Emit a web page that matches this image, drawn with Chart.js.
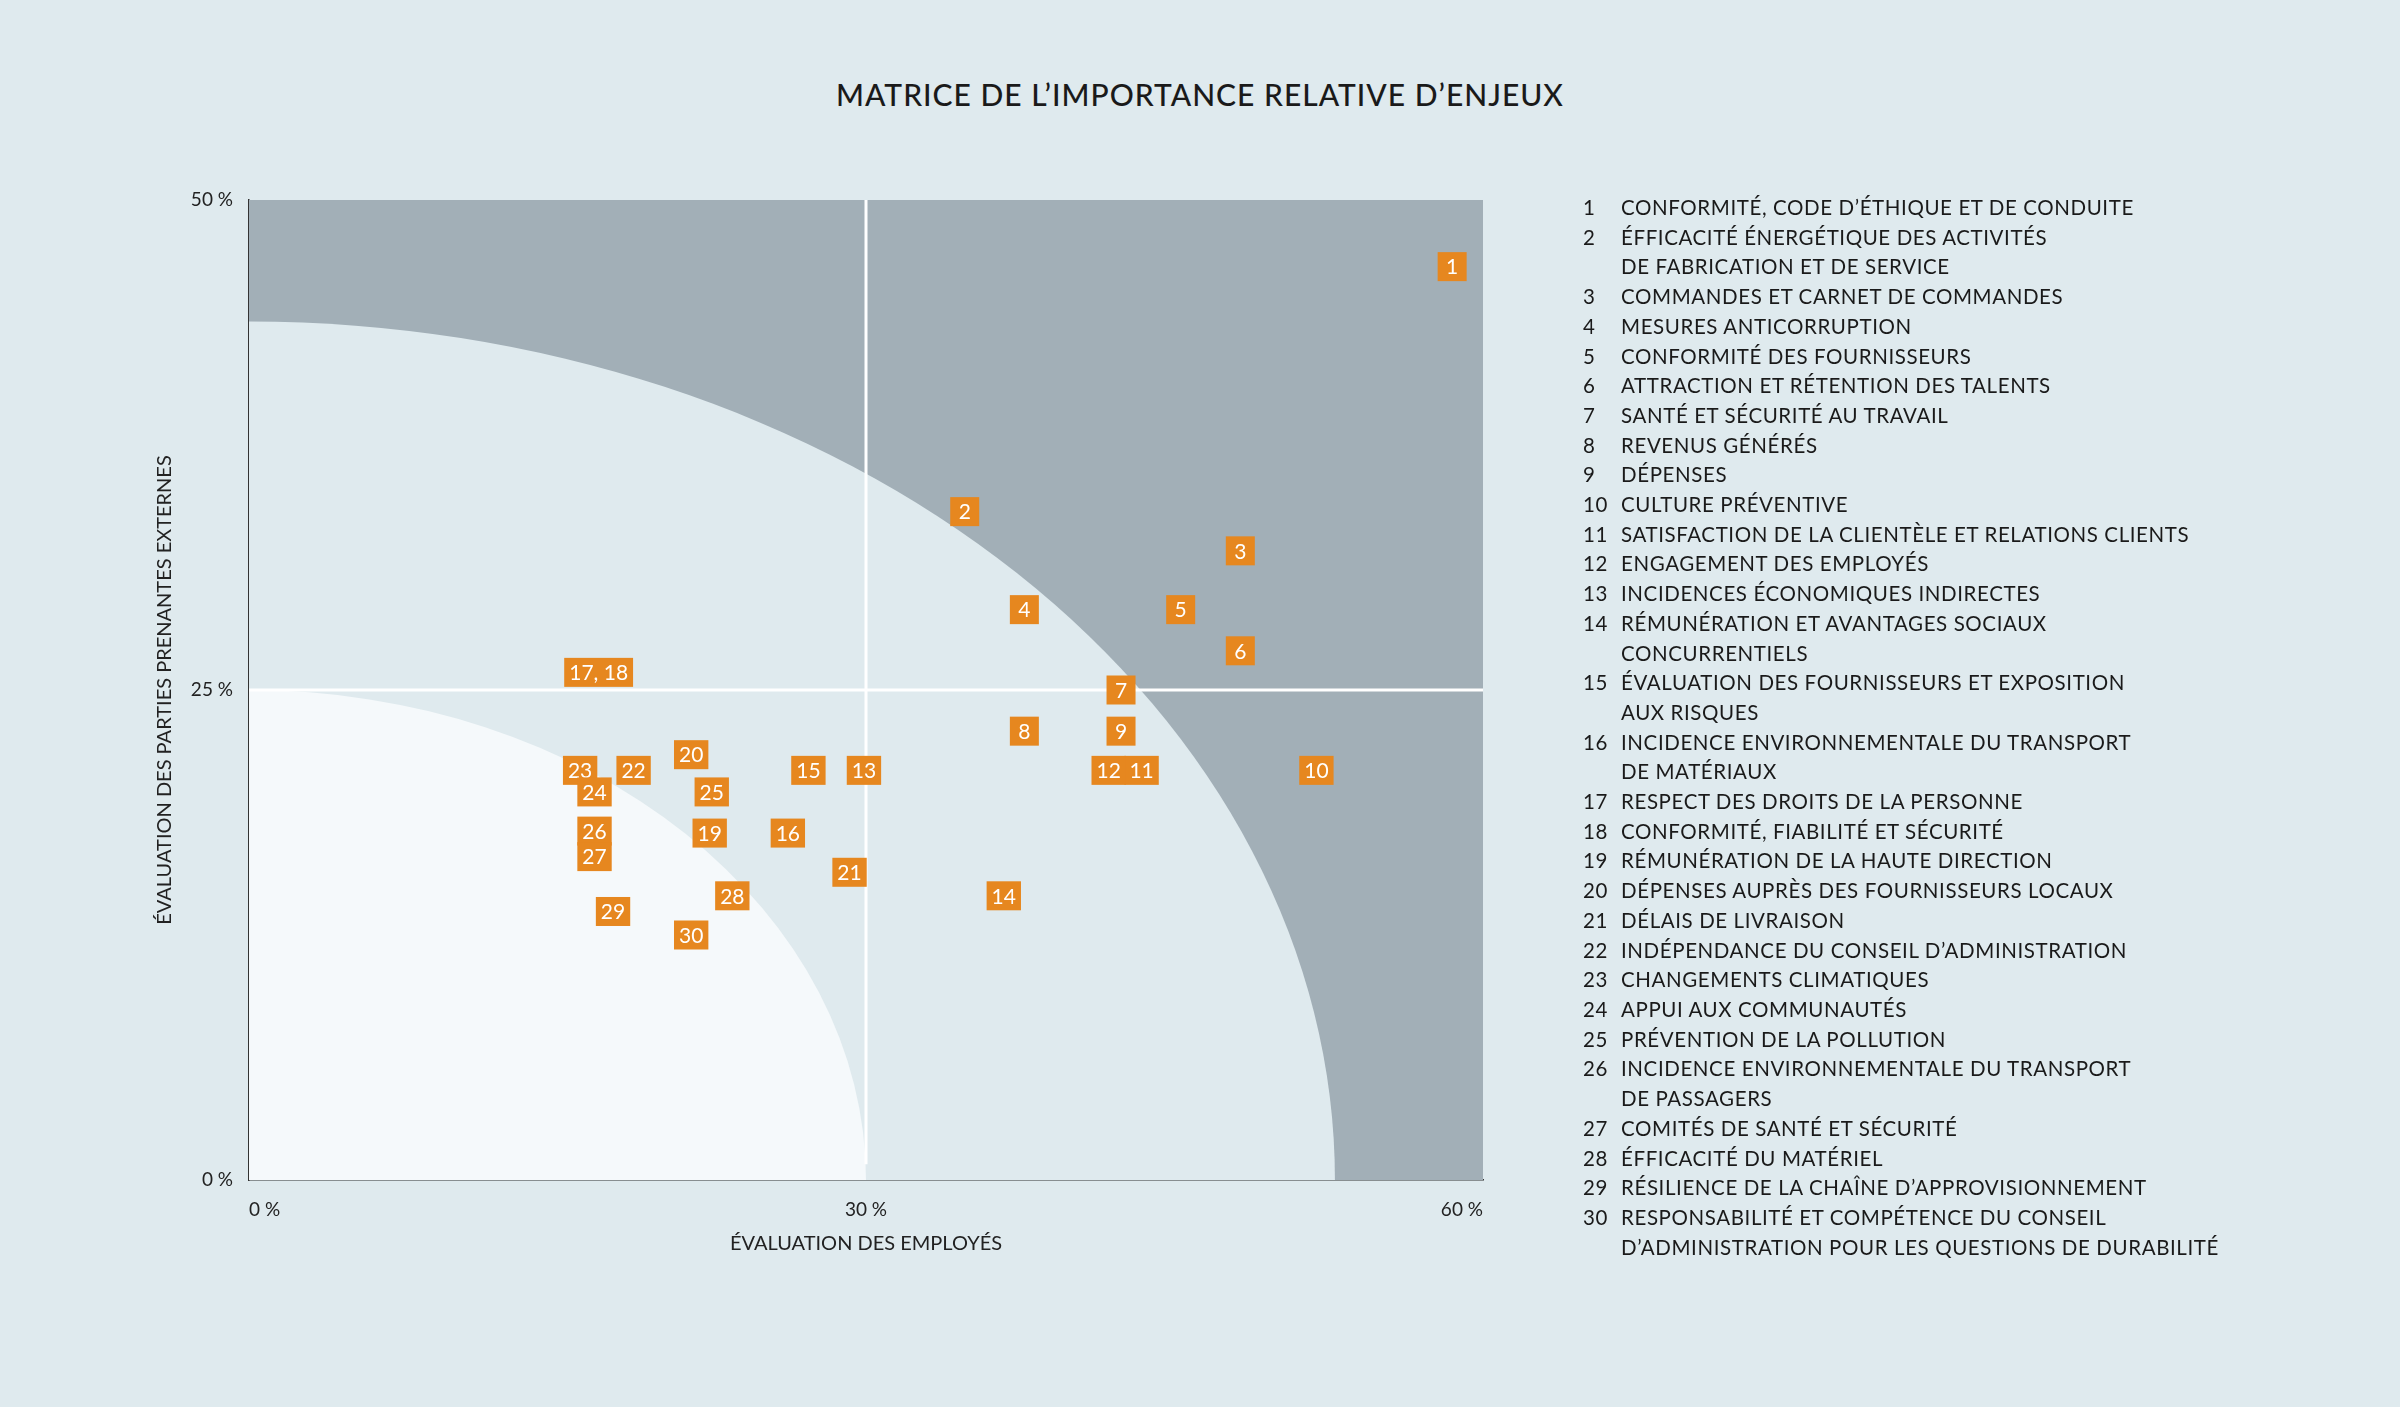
<!DOCTYPE html>
<html>
<head>
<meta charset="utf-8">
<script src="https://cdn.jsdelivr.net/npm/chart.js@4"></script>
<style>
  body{margin:0;background:#dfeaee;font-family:Lato,"Noto Sans",sans-serif;color:#1a1a1a;}
  #wrap{position:relative;width:2400px;height:1407px;}
  #title{position:absolute;top:76px;left:0;width:2400px;text-align:center;font-size:30px;letter-spacing:1px;font-weight:500;}
  canvas{position:absolute;left:0;top:0;}
  #legend{position:absolute;left:1583px;top:193px;font-size:20.5px;letter-spacing:0.6px;line-height:29.7px;}
  #legend .row{display:flex;}
  #legend .n{width:38px;flex:none;}
</style>
</head>
<body>
<div id="wrap">
  <div id="title">MATRICE DE L’IMPORTANCE RELATIVE D’ENJEUX</div>
  <canvas id="graphicFirst" width="2400" height="1407"></canvas>
  <div id="legend"></div>
</div>
<script>
//-----Variables
const enjeux = [
  {n:'1', x:58.5, y:46.6, t:['CONFORMITÉ, CODE D’ÉTHIQUE ET DE CONDUITE']},
  {n:'2', x:34.8, y:34.1, t:['ÉFFICACITÉ ÉNERGÉTIQUE DES ACTIVITÉS','DE FABRICATION ET DE SERVICE']},
  {n:'3', x:48.2, y:32.1, t:['COMMANDES ET CARNET DE COMMANDES']},
  {n:'4', x:37.7, y:29.1, t:['MESURES ANTICORRUPTION']},
  {n:'5', x:45.3, y:29.1, t:['CONFORMITÉ DES FOURNISSEURS']},
  {n:'6', x:48.2, y:27.0, t:['ATTRACTION ET RÉTENTION DES TALENTS']},
  {n:'7', x:42.4, y:25.0, t:['SANTÉ ET SÉCURITÉ AU TRAVAIL']},
  {n:'8', x:37.7, y:22.9, t:['REVENUS GÉNÉRÉS']},
  {n:'9', x:42.4, y:22.9, t:['DÉPENSES']},
  {n:'10', x:51.9, y:20.9, t:['CULTURE PRÉVENTIVE']},
  {n:'11', x:43.4, y:20.9, t:['SATISFACTION DE LA CLIENTÈLE ET RELATIONS CLIENTS']},
  {n:'12', x:41.8, y:20.9, t:['ENGAGEMENT DES EMPLOYÉS']},
  {n:'13', x:29.9, y:20.9, t:['INCIDENCES ÉCONOMIQUES INDIRECTES']},
  {n:'14', x:36.7, y:14.5, t:['RÉMUNÉRATION ET AVANTAGES SOCIAUX','CONCURRENTIELS']},
  {n:'15', x:27.2, y:20.9, t:['ÉVALUATION DES FOURNISSEURS ET EXPOSITION','AUX RISQUES']},
  {n:'16', x:26.2, y:17.7, t:['INCIDENCE ENVIRONNEMENTALE DU TRANSPORT','DE MATÉRIAUX']},
  {n:'17', x:null, y:null, t:['RESPECT DES DROITS DE LA PERSONNE']},
  {n:'18', x:null, y:null, t:['CONFORMITÉ, FIABILITÉ ET SÉCURITÉ']},
  {n:'19', x:22.4, y:17.7, t:['RÉMUNÉRATION DE LA HAUTE DIRECTION']},
  {n:'20', x:21.5, y:21.7, t:['DÉPENSES AUPRÈS DES FOURNISSEURS LOCAUX']},
  {n:'21', x:29.2, y:15.7, t:['DÉLAIS DE LIVRAISON']},
  {n:'22', x:18.7, y:20.9, t:['INDÉPENDANCE DU CONSEIL D’ADMINISTRATION']},
  {n:'23', x:16.1, y:20.9, t:['CHANGEMENTS CLIMATIQUES']},
  {n:'24', x:16.8, y:19.8, t:['APPUI AUX COMMUNAUTÉS']},
  {n:'25', x:22.5, y:19.8, t:['PRÉVENTION DE LA POLLUTION']},
  {n:'26', x:16.8, y:17.8, t:['INCIDENCE ENVIRONNEMENTALE DU TRANSPORT','DE PASSAGERS']},
  {n:'27', x:16.8, y:16.5, t:['COMITÉS DE SANTÉ ET SÉCURITÉ']},
  {n:'28', x:23.5, y:14.5, t:['ÉFFICACITÉ DU MATÉRIEL']},
  {n:'29', x:17.7, y:13.7, t:['RÉSILIENCE DE LA CHAÎNE D’APPROVISIONNEMENT']},
  {n:'30', x:21.5, y:12.5, t:['RESPONSABILITÉ ET COMPÉTENCE DU CONSEIL','D’ADMINISTRATION POUR LES QUESTIONS DE DURABILITÉ']},
];
// 17 et 18 partagent la meme position
const pointsGroup = [{label:'17, 18', x:17.0, y:25.9}];

let points = enjeux.filter(e => e.x !== null).map(e => ({x:e.x, y:e.y, label:e.n}));
points = points.concat(pointsGroup);

//----LEGEND
let html = '';
enjeux.forEach(e => {
  html += '<div class="row"><span class="n">' + e.n + '</span><span>' + e.t.join('<br>') + '</span></div>';
});
document.getElementById('legend').innerHTML = html;

//----Zones (rayons en unites des axes)
const zones = {inner:{rx:30, ry:25}, outer:{rx:52.8, ry:43.8}};

const zonesPlugin = {
  id:'zones',
  beforeDatasetsDraw(chart){
    const {ctx, chartArea:a, scales:{x, y}} = chart;
    const x0 = x.getPixelForValue(0), y0 = y.getPixelForValue(0);
    ctx.save();
    ctx.beginPath();
    ctx.rect(a.left, a.top, a.right - a.left, a.bottom - a.top);
    ctx.clip();
    ctx.fillStyle = '#a2afb7';
    ctx.fillRect(a.left, a.top, a.right - a.left, a.bottom - a.top);
    const ell = (z, color) => {
      ctx.beginPath();
      ctx.moveTo(x0, y0);
      ctx.ellipse(x0, y0, x.getPixelForValue(z.rx) - x0, y0 - y.getPixelForValue(z.ry), 0, -Math.PI/2, 0);
      ctx.closePath();
      ctx.fillStyle = color;
      ctx.fill();
    };
    ell(zones.outer, '#dfeaee');
    ell(zones.inner, '#f5f9fb');
    // lignes blanches
    ctx.strokeStyle = '#ffffff';
    ctx.lineWidth = 3;
    ctx.beginPath();
    const xm = x.getPixelForValue(30), ym = y.getPixelForValue(25);
    ctx.moveTo(xm, a.top); ctx.lineTo(xm, y.getPixelForValue(0.8));
    ctx.moveTo(a.left, ym); ctx.lineTo(a.right, ym);
    ctx.stroke();
    ctx.restore();
  }
};

const boxesPlugin = {
  id:'boxes',
  afterDatasetsDraw(chart){
    const ctx = chart.ctx;
    const meta = chart.getDatasetMeta(0);
    ctx.save();
    ctx.font = '21px Lato, "Noto Sans", sans-serif';
    ctx.textAlign = 'center';
    ctx.textBaseline = 'middle';
    meta.data.forEach((el, i) => {
      const lab = points[i].label;
      const w = Math.max(29, ctx.measureText(lab).width + 10), h = 29;
      ctx.fillStyle = '#e6871f';
      ctx.fillRect(el.x - w/2, el.y - h/2, w, h);
      ctx.fillStyle = '#ffffff';
      ctx.fillText(lab, el.x, el.y + 1);
    });
    ctx.restore();
  }
};

const tickFont = {family:'Lato, "Noto Sans", sans-serif', size:19};

const setOptions1 = {
  responsive:false,
  animation:false,
  layout:{padding:{left:149, right:917, top:200, bottom:147}},
  plugins:{legend:{display:false}, tooltip:{enabled:false}},
  scales:{
    x:{
      type:'linear', min:0, max:60,
      afterFit(s){ s.height = 80; },
      grid:{display:false},
      border:{display:true, color:'#333', width:1.5},
      ticks:{stepSize:30, align:'inner', color:'#222', font:tickFont, padding:10, callback:v => v + ' %'},
      title:{display:true, text:'ÉVALUATION DES EMPLOYÉS', color:'#222', font:{family:'Lato, "Noto Sans", sans-serif', size:20}}
    },
    y:{
      type:'linear', min:0, max:50,
      afterFit(s){ s.width = 100; },
      grid:{display:false},
      border:{display:true, color:'#333', width:1.5},
      ticks:{stepSize:25, color:'#222', font:tickFont, padding:8, callback:v => v + ' %'},
      title:{display:true, text:'ÉVALUATION DES PARTIES PRENANTES EXTERNES', color:'#222', font:{family:'Lato, "Noto Sans", sans-serif', size:20}}
    }
  }
};

let chart1;
function drawGraphicFirst(){
  var ctx = document.getElementById('graphicFirst').getContext('2d');
  if (chart1) { chart1.destroy(); }
  chart1 = new Chart(ctx, {
    type:'scatter',
    data:{datasets:[{data:points, pointRadius:0}]},
    options:setOptions1,
    plugins:[zonesPlugin, boxesPlugin],
  });
}
drawGraphicFirst();
</script>
</body>
</html>
